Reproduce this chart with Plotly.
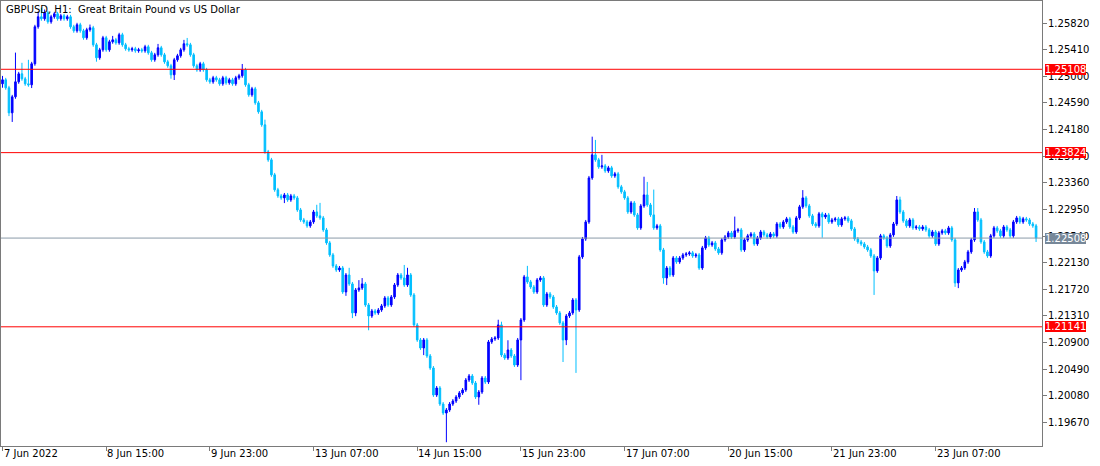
import pandas as pd
import plotly.graph_objects as go

chart_title = "GBPUSD, H1:  Great Britain Pound vs US Dollar"
first_open = 1.24884
close = [
    1.24946, 1.24823, 1.24437, 1.24684, 1.24915, 1.25038, 1.24961, 1.24884, 1.24869, 1.25193,
    1.25763, 1.25917, 1.25886, 1.25979, 1.25840, 1.25917, 1.25963, 1.25886, 1.25932, 1.25886,
    1.25917, 1.25763, 1.25701, 1.25794, 1.25701, 1.25593, 1.25717, 1.25747, 1.25485, 1.25285,
    1.25408, 1.25593, 1.25408, 1.25532, 1.25562, 1.25516, 1.25640, 1.25485, 1.25424, 1.25408,
    1.25424, 1.25393, 1.25408, 1.25393, 1.25455, 1.25362, 1.25254, 1.25331, 1.25439, 1.25331,
    1.25223, 1.25162, 1.25023, 1.25254, 1.25316, 1.25408, 1.25501, 1.25485, 1.25331,
    1.25162, 1.25100, 1.25193, 1.25100, 1.24946, 1.24915, 1.24977, 1.24946, 1.24884, 1.24977,
    1.24900, 1.24946, 1.24884, 1.24977, 1.25008, 1.25100, 1.24869, 1.24715, 1.24807, 1.24591,
    1.24453, 1.24252, 1.23836, 1.23713, 1.23482, 1.23251, 1.23158, 1.23127, 1.23173, 1.23096,
    1.23158, 1.23127, 1.22942, 1.22788, 1.22757, 1.22696, 1.22757, 1.22911, 1.22850, 1.22819,
    1.22634, 1.22434, 1.22249, 1.22079, 1.22017, 1.22048, 1.21678, 1.21940, 1.21802, 1.21355,
    1.21709, 1.21740, 1.21802, 1.21478, 1.21308, 1.21386, 1.21355, 1.21401, 1.21463, 1.21586,
    1.21478, 1.21601, 1.21786, 1.21940, 1.21894, 1.21786, 1.21940, 1.21632, 1.21170, 1.20939,
    1.20815, 1.20939, 1.20692, 1.20507, 1.20091, 1.20199, 1.19952, 1.19813, 1.19860, 1.19952,
    1.19998, 1.20060, 1.20122, 1.20168, 1.20322, 1.20384, 1.20276, 1.20060, 1.20137, 1.20353,
    1.20291, 1.20908, 1.20954, 1.20969, 1.21170, 1.20707, 1.20661, 1.20784, 1.20692, 1.20553,
    1.20939, 1.21247, 1.21910, 1.21833, 1.21755, 1.21678, 1.21863, 1.21894, 1.21478,
    1.21648, 1.21601, 1.21447, 1.21355, 1.21201, 1.20939, 1.21308, 1.21355, 1.21555, 1.21401,
    1.22218, 1.22495, 1.22757, 1.23435, 1.23790, 1.23713, 1.23605, 1.23620, 1.23543, 1.23590,
    1.23466, 1.23497, 1.23297, 1.23220, 1.23127, 1.22911, 1.23050, 1.22865, 1.22665, 1.23004,
    1.23173, 1.23019, 1.22865, 1.22665, 1.22696, 1.22326, 1.21894, 1.22048, 1.21940, 1.22202,
    1.22141, 1.22202, 1.22249, 1.22264, 1.22280, 1.22233, 1.22249, 1.22048, 1.22357, 1.22511,
    1.22403, 1.22434, 1.22341, 1.22280, 1.22480, 1.22526, 1.22588, 1.22526, 1.22619, 1.22634,
    1.22326, 1.22480, 1.22542, 1.22572, 1.22418, 1.22511, 1.22603, 1.22557, 1.22526, 1.22572,
    1.22542, 1.22726, 1.22680, 1.22757, 1.22804, 1.22680, 1.22603, 1.22819, 1.22989, 1.23127,
    1.23004, 1.22850, 1.22726, 1.22696, 1.22881, 1.22834, 1.22865, 1.22757, 1.22788, 1.22804,
    1.22711, 1.22804, 1.22819, 1.22773, 1.22649, 1.22495, 1.22449, 1.22418, 1.22372,
    1.22326, 1.22233, 1.22002, 1.22202, 1.22542, 1.22511, 1.22387, 1.22557, 1.22726, 1.23096,
    1.22911, 1.22773, 1.22696, 1.22788, 1.22665, 1.22680, 1.22649, 1.22680, 1.22634, 1.22542,
    1.22603, 1.22418, 1.22588, 1.22619, 1.22588, 1.22665, 1.22480, 1.21817, 1.22017, 1.22048,
    1.22141, 1.22295, 1.22480, 1.22911, 1.22788, 1.22449, 1.22295, 1.22233, 1.22542, 1.22665,
    1.22619, 1.22542, 1.22680, 1.22634, 1.22542, 1.22757, 1.22819, 1.22757, 1.22804, 1.22788,
    1.22726, 1.22696, 1.22508,
]
# wick lengths in pips (0.0001)
upper_wick_pips = [
    6, 3, 3, 3, 45, 3, 17, 3, 37, 3, 3, 8, 14, 5, 3, 3, 3, 3, 3, 3,
    3, 3, 3, 3, 3, 3, 3, 5, 3, 3, 3, 3, 3, 3, 6, 3, 3, 3, 3, 3,
    3, 3, 3, 3, 3, 3, 3, 3, 6, 3, 3, 3, 3, 3, 3, 3, 6, 9, 3,
    3, 3, 3, 3, 3, 3, 3, 3, 3, 3, 3, 3, 3, 3, 3, 9, 3, 3, 3, 3,
    3, 3, 8, 3, 3, 3, 3, 3, 3, 3, 3, 3, 3, 3, 3, 3, 3, 3, 11, 20,
    3, 3, 3, 3, 3, 3, 3, 3, 11, 3, 3, 12, 9, 3, 3, 3, 3, 3, 3, 3,
    3, 3, 3, 3, 3, 20, 11, 3, 3, 3, 3, 3, 3, 3, 3, 3, 3, 3, 3, 3,
    3, 3, 3, 3, 3, 3, 3, 3, 3, 3, 3, 3, 3, 3, 8, 5, 3, 15, 3, 3,
    3, 3, 3, 17, 3, 3, 3, 3, 3, 3, 3, 3, 3, 3, 3, 3, 3, 3, 3,
    3, 3, 3, 3, 28, 23, 3, 17, 3, 3, 3, 3, 3, 3, 3, 3, 3, 3, 3, 3,
    28, 20, 3, 39, 3, 3, 3, 3, 3, 3, 3, 3, 3, 3, 3, 3, 3, 3, 3, 3,
    3, 3, 3, 3, 3, 3, 3, 3, 22, 3, 3, 3, 3, 3, 3, 3, 3, 3, 3, 3,
    3, 3, 3, 3, 3, 3, 3, 3, 3, 12, 3, 3, 3, 3, 3, 3, 3, 3, 3, 3,
    3, 3, 3, 3, 3, 3, 3, 3, 3, 3, 3, 3, 3, 3, 3, 3, 3, 3, 6,
    5, 3, 3, 3, 3, 3, 3, 3, 3, 3, 3, 3, 3, 3, 3, 3, 3, 3, 3, 3,
    3, 3, 3, 6, 6, 3, 3, 3, 3, 3, 3, 3, 3, 3, 3, 3, 3, 3, 3, 3,
    3, 3, 3,
]
lower_wick_pips = [
    6, 3, 5, 14, 3, 3, 3, 3, 3, 5, 3, 3, 3, 3, 3, 3, 3, 3, 3, 3,
    3, 3, 3, 3, 3, 3, 3, 3, 3, 6, 3, 3, 3, 3, 3, 3, 3, 3, 3, 3,
    3, 3, 3, 3, 3, 3, 3, 3, 3, 3, 3, 3, 6, 8, 3, 3, 3, 3, 3,
    3, 3, 3, 3, 3, 3, 3, 3, 3, 3, 3, 3, 3, 3, 3, 3, 3, 3, 3, 3,
    3, 3, 3, 3, 3, 3, 3, 3, 8, 3, 3, 3, 3, 3, 3, 3, 3, 3, 3, 3,
    3, 3, 3, 3, 3, 3, 3, 6, 3, 8, 5, 3, 3, 3, 22, 3, 3, 3, 3, 3,
    3, 3, 3, 3, 3, 3, 3, 3, 3, 3, 3, 11, 3, 3, 3, 3, 3, 3, 45, 3,
    3, 3, 3, 3, 3, 3, 3, 3, 12, 3, 3, 3, 3, 3, 3, 3, 3, 3, 3, 3,
    3, 62, 3, 3, 3, 3, 3, 3, 3, 3, 3, 3, 3, 3, 34, 8, 3, 3, 97,
    3, 3, 3, 3, 3, 3, 3, 3, 3, 3, 3, 3, 3, 3, 3, 3, 3, 3, 3, 3,
    3, 3, 3, 3, 3, 3, 9, 11, 3, 3, 3, 3, 3, 3, 3, 3, 3, 3, 3, 3,
    3, 3, 3, 3, 3, 3, 3, 3, 3, 3, 3, 3, 3, 3, 3, 3, 3, 3, 3, 3,
    3, 3, 3, 3, 3, 3, 3, 3, 3, 3, 3, 3, 3, 3, 3, 32, 3, 3, 3, 3,
    3, 3, 3, 3, 3, 3, 3, 3, 3, 3, 3, 37, 3, 3, 3, 3, 3, 3, 3,
    3, 3, 3, 3, 3, 3, 3, 3, 3, 3, 3, 3, 3, 3, 3, 3, 3, 6, 8, 3,
    3, 3, 3, 3, 3, 3, 3, 3, 3, 3, 3, 3, 3, 3, 3, 3, 3, 3, 3, 3,
    3, 3, 6,
]
red_levels = [1.21141, 1.23824, 1.25108]
bid_level = 1.22508
y_ticks = [1.25820, 1.25410, 1.25000, 1.24590, 1.24180, 1.23770, 1.23360, 1.22950,
           1.22540, 1.22130, 1.21720, 1.21310, 1.20900, 1.20490, 1.20080, 1.19670]
label_step = 32
first_label_index = 0

times = pd.date_range("2022-06-07 07:00", "2022-06-24 14:00", freq="h")
times = times[times.dayofweek < 5]
cats = list(times.strftime("%Y-%m-%d %H:%M"))
n = len(close)
assert len(cats) == n == len(upper_wick_pips) == len(lower_wick_pips)

opens = [first_open] + close[:-1]
highs = [max(o, c) + u * 1e-4 for o, c, u in zip(opens, close, upper_wick_pips)]
lows = [min(o, c) - d * 1e-4 for o, c, d in zip(opens, close, lower_wick_pips)]

BULL = "#0000FF"
BEAR = "#00BFFF"
AXIS = "#7a7a7a"
RED = "#FF0000"
FONT = "DejaVu Sans"
FS = 10
X0, X1 = -0.463, 320.83

fig = go.Figure(go.Candlestick(
    x=cats, open=opens, high=highs, low=lows, close=close,
    increasing=dict(line=dict(color=BULL, width=1), fillcolor=BULL),
    decreasing=dict(line=dict(color=BEAR, width=1), fillcolor=BEAR),
    whiskerwidth=0, hoverinfo="skip", showlegend=False,
))

tick_idx = list(range(first_label_index, n, label_step))
tick_vals = [cats[i] for i in tick_idx]
tick_text = []
for k, i in enumerate(tick_idx):
    t = times[i]
    if k == 0:
        tick_text.append(f"{t.day} {t.strftime('%b %Y')}")
    else:
        tick_text.append(f"{t.day} {t.strftime('%b %H:%M')}")

shapes = []
for lv in red_levels:
    shapes.append(dict(type="line", xref="x domain", x0=0, x1=1, yref="y", y0=lv, y1=lv,
                       line=dict(color=RED, width=1), layer="above", opacity=1))
shapes.append(dict(type="line", xref="x domain", x0=0, x1=1, yref="y", y0=bid_level, y1=bid_level,
                   line=dict(color="#8a9aa8", width=1), layer="above"))

annotations = [dict(text=chart_title, xref="paper", yref="paper", x=0, y=1,
                    xanchor="left", yanchor="top", xshift=3, yshift=-1, showarrow=False,
                    font=dict(family=FONT, size=FS, color="#000000"))]
# y-axis tick labels
for v in y_ticks:
    annotations.append(dict(text=f"{v:.5f}", xref="paper", yref="y", x=1, y=v,
                            xanchor="left", yanchor="middle", xshift=5, showarrow=False,
                            borderpad=0, font=dict(family=FONT, size=FS, color="#000000")))
# x-axis tick labels (left aligned at the tick, as in the terminal)
for v, t in zip(tick_vals, tick_text):
    annotations.append(dict(text=t, xref="x", yref="paper", x=v, y=0,
                            xanchor="left", yanchor="top", xshift=0, yshift=-1, showarrow=False,
                            borderpad=0, font=dict(family=FONT, size=FS, color="#000000")))
for lv in red_levels:
    annotations.append(dict(text=f"{lv:.5f}", xref="paper", yref="y", x=1, y=lv,
                            xanchor="left", yanchor="middle", xshift=3, showarrow=False,
                            bgcolor=RED, borderpad=0, borderwidth=0,
                            font=dict(family=FONT, size=FS, color="#FFFFFF")))
annotations.append(dict(text=f"{bid_level:.5f}", xref="paper", yref="y", x=1, y=bid_level,
                        xanchor="left", yanchor="middle", xshift=3, showarrow=False,
                        bgcolor="#778899", borderpad=0, borderwidth=0,
                        font=dict(family=FONT, size=FS, color="#FFFFFF")))

fig.update_layout(
    template="none",
    width=1100, height=466,
    margin=dict(l=1, r=58, t=1, b=20, pad=0),
    paper_bgcolor="#FFFFFF", plot_bgcolor="#FFFFFF",
    font=dict(family=FONT, size=FS, color="#000000"),
    hovermode=False, showlegend=False,
    shapes=shapes, annotations=annotations,
    xaxis=dict(type="category", range=[X0, X1], rangeslider=dict(visible=False),
               automargin=False, showgrid=False, zeroline=False, showline=True, mirror=True,
               linecolor=AXIS, linewidth=1, ticks="outside", ticklen=4, tickcolor=AXIS,
               tickvals=tick_vals, showticklabels=False),
    yaxis=dict(side="right", range=[1.19305, 1.26160], automargin=False,
               showgrid=False, zeroline=False,
               showline=True, mirror=True, linecolor=AXIS, linewidth=1,
               ticks="outside", ticklen=4, tickcolor=AXIS,
               tickvals=y_ticks, showticklabels=False),
)

fig.write_html("out.html", config={"displayModeBar": False},
               post_script="document.body.style.margin='0px';document.body.style.overflow='hidden';")
